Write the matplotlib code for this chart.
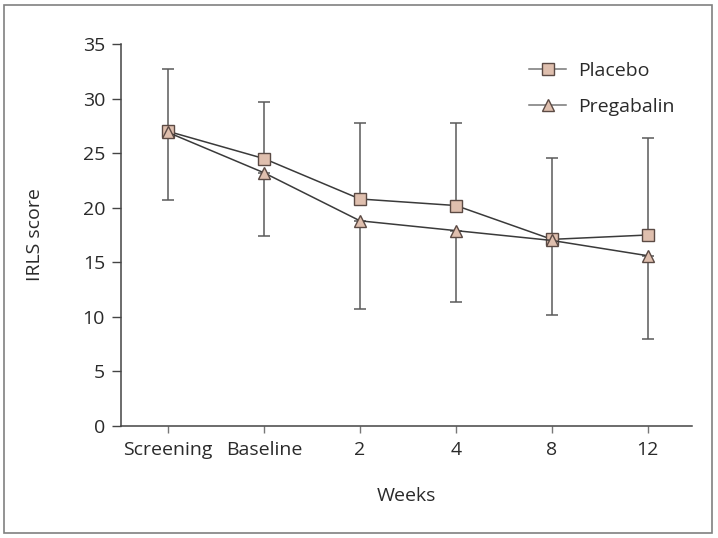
import matplotlib
matplotlib.use("Agg")
import matplotlib.pyplot as plt
from matplotlib.lines import Line2D

plt.rcParams['font.family'] = ['Open Sans', 'DejaVu Sans']

weeks = ['Screening', 'Baseline', '2', '4', '8', '12']
placebo = [27.0, 24.5, 20.8, 20.2, 17.1, 17.5]
pregabalin = [26.9, 23.2, 18.8, 17.9, 17.0, 15.6]
# placebo bars go up, pregabalin bars go down
placebo_sd = [5.7, 5.2, 7.0, 7.6, 7.5, 8.9]
pregabalin_sd = [6.2, 5.8, 8.1, 6.5, 6.8, 7.6]

fill = '#dfbfae'
edge = '#5b4a44'
line_c = '#3a3a3a'
bar_c = '#5a5a5a'
text_c = '#2a2a2a'

fig = plt.figure(figsize=(7.18, 5.38), dpi=100)
# outer frame
fig.add_artist(plt.Rectangle((4 / 718, 5 / 538), 708 / 718, 528 / 538,
                             transform=fig.transFigure, fill=False,
                             edgecolor='#808080', linewidth=1.2))
ax = fig.add_axes([121 / 718, 1 - 426 / 538, (692 - 121) / 718, (426 - 44) / 538])

x = list(range(len(weeks)))

ax.errorbar(x, placebo, yerr=[[0] * 6, placebo_sd], fmt='none', ecolor=bar_c,
            elinewidth=1.1, capsize=4, capthick=1.1, zorder=1)
ax.errorbar(x, pregabalin, yerr=[pregabalin_sd, [0] * 6], fmt='none', ecolor=bar_c,
            elinewidth=1.1, capsize=4, capthick=1.1, zorder=1)

ax.plot(x, placebo, color=line_c, lw=1.1, marker='s', markersize=9,
        markerfacecolor=fill, markeredgecolor=edge, markeredgewidth=1.0, zorder=3)
ax.plot(x, pregabalin, color=line_c, lw=1.1, marker='^', markersize=9,
        markerfacecolor=fill, markeredgecolor=edge, markeredgewidth=1.0, zorder=3)

ax.set_xlim(-0.49, 5.46)
ax.set_ylim(0, 35)
ax.set_yticks(range(0, 36, 5))
ax.set_xticks(x)
ax.set_xticklabels(weeks)

for s in ['top', 'right']:
    ax.spines[s].set_visible(False)
for s in ['left', 'bottom']:
    ax.spines[s].set_color('#444444')
    ax.spines[s].set_linewidth(1.1)

ax.tick_params(axis='y', length=6.5, width=1.0, color='#444444', pad=5,
               labelsize=14, labelcolor=text_c)
ax.tick_params(axis='x', length=5, width=1.0, color='#777777', pad=6,
               labelsize=14, labelcolor=text_c)

ax.set_ylabel('IRLS score', fontsize=14, color=text_c, labelpad=28)
ax.set_xlabel('Weeks', fontsize=14, color=text_c, labelpad=20)

handles = [
    Line2D([], [], color='#777777', lw=1.1, marker='s', markersize=9,
           markerfacecolor=fill, markeredgecolor=edge),
    Line2D([], [], color='#777777', lw=1.1, marker='^', markersize=9,
           markerfacecolor=fill, markeredgecolor=edge),
]
ax.legend(handles, ['Placebo', 'Pregabalin'], loc='upper right',
          bbox_to_anchor=(1.0, 1.0), frameon=False, fontsize=14,
          handlelength=1.9, labelspacing=0.95, handletextpad=0.6,
          labelcolor=text_c)

fig.savefig('out.png', dpi=100)
